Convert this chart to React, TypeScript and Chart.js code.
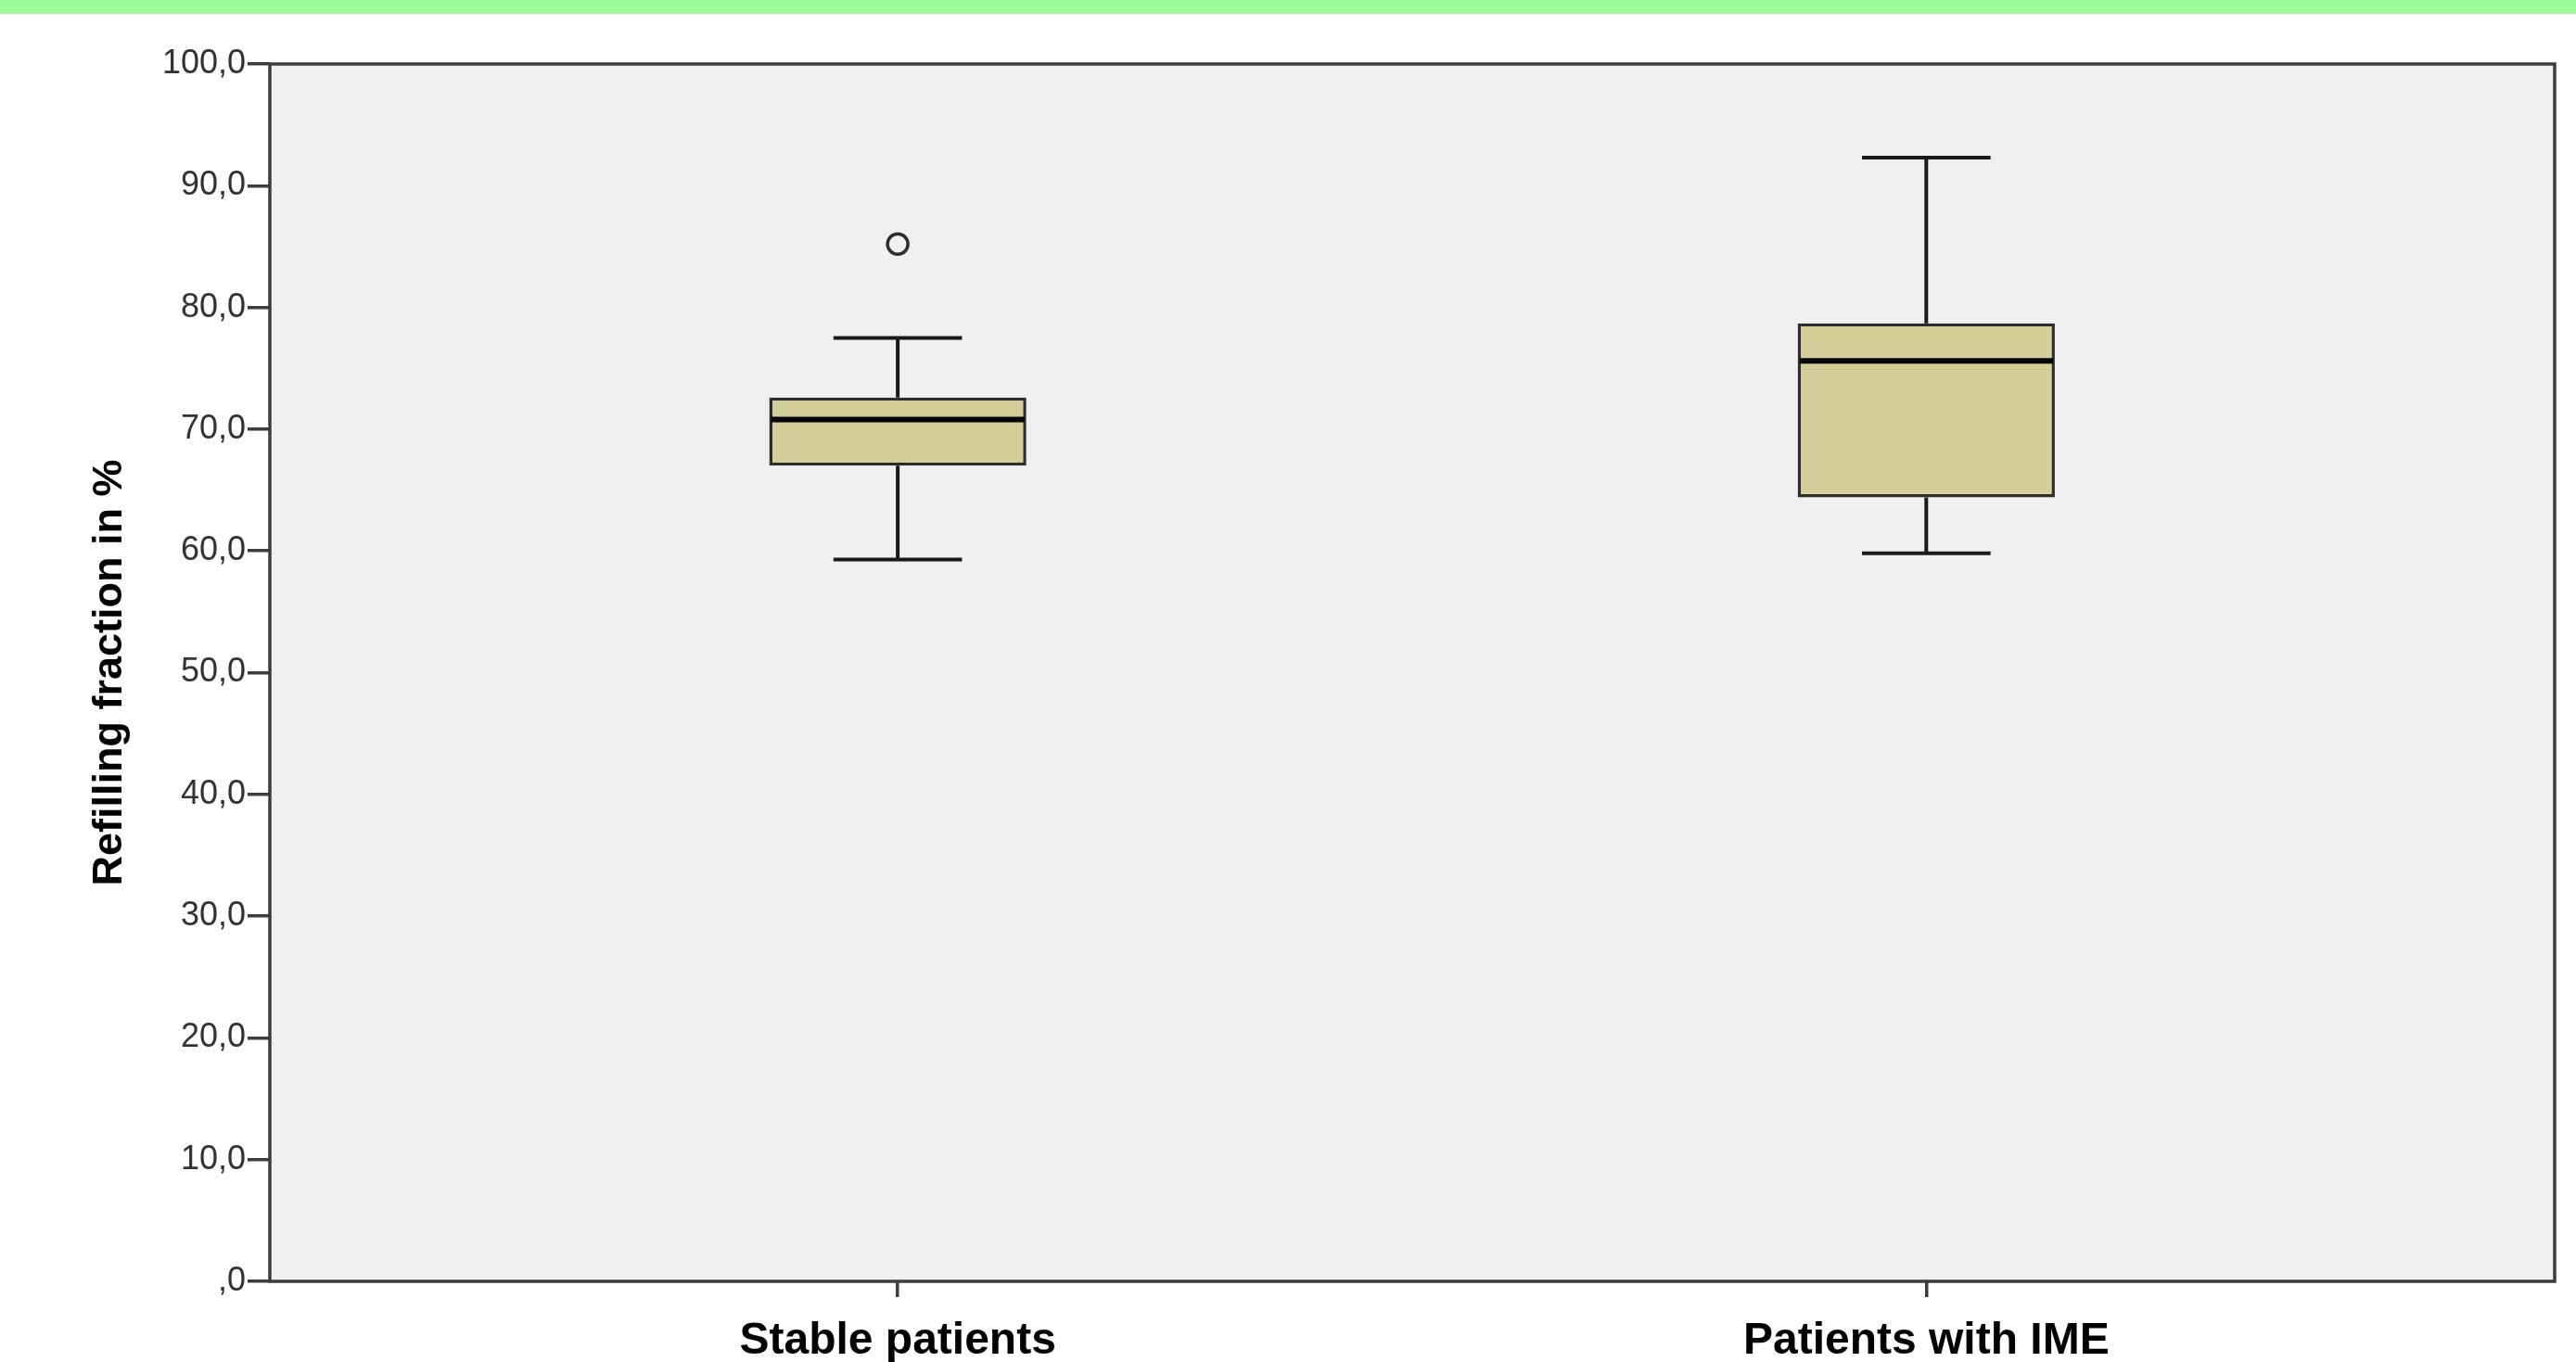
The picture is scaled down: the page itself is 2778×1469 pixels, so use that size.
import React, { useEffect, useRef } from 'react';
import { Chart, registerables } from 'chart.js';

Chart.register(...registerables);

// ---- data ----
const categories = ['Stable patients', 'Patients with IME'];
const categoryPositions = [0, 1];
const whiskerLow = [59.3, 59.8];
const q1 = [67.0, 64.4];
const median = [70.8, 75.6];
const q3 = [72.6, 78.7];
const whiskerHigh = [77.5, 92.3];
const outliers: number[][] = [[85.2], []];
const yTickValues = [0, 10, 20, 30, 40, 50, 60, 70, 80, 90, 100];
const yTickLabels = [',0', '10,0', '20,0', '30,0', '40,0', '50,0', '60,0', '70,0', '80,0', '90,0', '100,0'];
const yTitle = 'Refilling fraction in %';

const W = 2778;
const H = 1469;
const FONT = '"Liberation Sans", Arial, Helvetica, sans-serif';

const boxPlugin = {
  id: 'boxWhiskers',
  beforeDraw(chart: any) {
    const { ctx, chartArea } = chart;
    ctx.save();
    ctx.fillStyle = '#f0f0f0';
    ctx.fillRect(chartArea.left, chartArea.top, chartArea.right - chartArea.left, chartArea.bottom - chartArea.top);
    ctx.restore();
  },
  afterDatasetsDraw(chart: any) {
    const { ctx } = chart;
    const xs = chart.scales.x;
    const ys = chart.scales.y;
    const meta = chart.getDatasetMeta(0);
    ctx.save();
    categoryPositions.forEach((pos, i) => {
      const bar = meta.data[i] as any;
      const w = bar.width;
      const cx = xs.getPixelForValue(pos);
      const yLo = ys.getPixelForValue(whiskerLow[i]);
      const yQ1 = ys.getPixelForValue(q1[i]);
      const yMed = ys.getPixelForValue(median[i]);
      const yQ3 = ys.getPixelForValue(q3[i]);
      const yHi = ys.getPixelForValue(whiskerHigh[i]);
      ctx.strokeStyle = '#1a1a1a';
      ctx.lineWidth = 4;
      ctx.lineCap = 'butt';
      ctx.beginPath();
      ctx.moveTo(cx, yQ3);
      ctx.lineTo(cx, yHi);
      ctx.moveTo(cx, yQ1);
      ctx.lineTo(cx, yLo);
      ctx.moveTo(cx - w / 4, yHi);
      ctx.lineTo(cx + w / 4, yHi);
      ctx.moveTo(cx - w / 4, yLo);
      ctx.lineTo(cx + w / 4, yLo);
      ctx.stroke();
      ctx.strokeStyle = '#000000';
      ctx.lineWidth = 6;
      ctx.beginPath();
      ctx.moveTo(cx - w / 2 + 2, yMed);
      ctx.lineTo(cx + w / 2 - 2, yMed);
      ctx.stroke();
    });
    ctx.restore();
  },
  afterDraw(chart: any) {
    const { ctx, chartArea } = chart;
    ctx.save();
    ctx.strokeStyle = '#3c3c3c';
    ctx.lineWidth = 3.5;
    ctx.strokeRect(chartArea.left, chartArea.top, chartArea.right - chartArea.left, chartArea.bottom - chartArea.top);
    ctx.restore();
  },
};

export default function App() {
  const canvasRef = useRef<HTMLCanvasElement | null>(null);

  useEffect(() => {
    const canvas = canvasRef.current;
    if (!canvas) return;
    const chart = new Chart(canvas, {
      type: 'bar',
      data: {
        datasets: [
          {
            type: 'bar',
            data: categoryPositions.map((p, i) => ({ x: p, y: [q1[i], q3[i]] })) as any,
            backgroundColor: '#d4ce98',
            borderColor: '#2e2e2e',
            borderWidth: 3.5,
            borderSkipped: false,
            categoryPercentage: 1,
            barPercentage: 0.25,
          } as any,
          {
            type: 'scatter',
            data: outliers.flatMap((vals, i) => vals.map((v) => ({ x: categoryPositions[i], y: v }))),
            pointStyle: 'circle',
            pointRadius: 11,
            pointBorderWidth: 3.5,
            pointBorderColor: '#2e2e2e',
            pointBackgroundColor: 'rgba(0,0,0,0)',
          } as any,
        ],
      },
      options: {
        animation: false,
        responsive: false,
        maintainAspectRatio: false,
        events: [],
        layout: { padding: { left: 0, top: 69, right: 23, bottom: 0 } },
        plugins: {
          legend: { display: false },
          tooltip: { enabled: false },
        },
        scales: {
          x: {
            type: 'linear',
            min: -0.6105,
            max: 1.611,
            offset: false,
            grid: {
              offset: false,
              drawOnChartArea: false,
              drawTicks: true,
              tickLength: 17,
              color: '#3c3c3c',
              lineWidth: 3.5,
            },
            border: { display: false },
            afterBuildTicks: (scale: any) => {
              scale.ticks = categoryPositions.map((v) => ({ value: v }));
            },
            afterFit: (scale: any) => {
              scale.height = 87;
            },
            ticks: {
              autoSkip: false,
              maxRotation: 0,
              minRotation: 0,
              padding: 19,
              color: '#000000',
              font: { family: FONT, size: 48, weight: 'bold' },
              callback: (_v: any, index: number) => categories[index],
            },
          },
          y: {
            type: 'linear',
            min: 0,
            max: 100,
            grid: {
              drawOnChartArea: false,
              drawTicks: true,
              tickLength: 24,
              color: '#3c3c3c',
              lineWidth: 3.5,
            },
            border: { display: false },
            afterBuildTicks: (scale: any) => {
              scale.ticks = yTickValues.map((v) => ({ value: v }));
            },
            afterFit: (scale: any) => {
              scale.width = 291;
            },
            ticks: {
              autoSkip: false,
              padding: 2,
              color: '#333333',
              font: { family: FONT, size: 36 },
              callback: (_v: any, index: number) => yTickLabels[index],
            },
            title: {
              display: true,
              text: yTitle,
              color: '#000000',
              font: { family: FONT, size: 45, weight: 'bold', lineHeight: 1.2 },
              padding: { top: 92, bottom: 0 },
            },
          },
        },
      } as any,
      plugins: [boxPlugin],
    });
    return () => chart.destroy();
  }, []);

  return (
    <div
      style={{
        position: 'fixed',
        left: 0,
        top: 0,
        width: W,
        height: H,
        background: '#ffffff',
        overflow: 'hidden',
      }}
    >
      <canvas
        ref={canvasRef}
        width={W}
        height={H}
        style={{ position: 'absolute', left: 0, top: 0, width: W, height: H, display: 'block' }}
      />
      <div
        style={{
          position: 'absolute',
          left: 0,
          top: 0,
          width: W,
          height: 15,
          background: '#9cfb98',
        }}
      />
    </div>
  );
}
